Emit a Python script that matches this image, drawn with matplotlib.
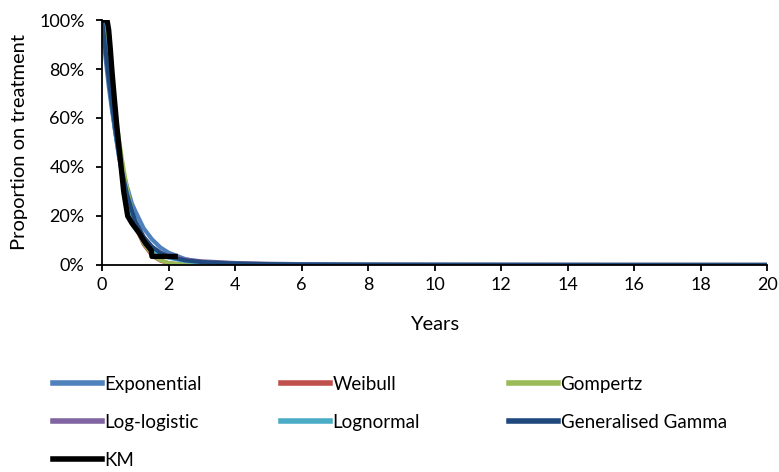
import matplotlib
matplotlib.use("Agg")
import matplotlib.pyplot as plt
from matplotlib.lines import Line2D

plt.rcParams['font.family'] = ['Lato', 'DejaVu Sans']

# Model curves (proportion on treatment, %) at time points (years)
t_model = [0, 0.05, 0.1, 0.2, 0.3, 0.4, 0.5, 0.6, 0.75, 0.9, 1.0, 1.25, 1.5, 1.75, 2.0, 2.5, 3.0, 4.0, 5.0, 6.0, 8.0, 10.0, 15.0, 20.0]
exponential = [100, 92, 85, 73, 63, 54, 47, 40, 32, 25, 22, 15, 10.5, 7.2, 5.0, 2.4, 1.1, 0.3, 0.1, 0.0, 0.0, 0.0, 0.0, 0.0]
weibull     = [100, 95, 90, 79, 68, 58, 48, 40, 29, 20, 16, 8.5, 4.0, 1.8, 0.7, 0.1, 0.0, 0.0, 0.0, 0.0, 0.0, 0.0, 0.0, 0.0]
gompertz    = [100, 97, 93, 84, 73, 62, 52, 43, 31, 22, 17, 9.0, 4.5, 2.0, 0.8, 0.1, 0.0, 0.0, 0.0, 0.0, 0.0, 0.0, 0.0, 0.0]
loglogistic = [100, 94, 88, 76, 65, 54, 45, 38, 28, 21, 17, 11, 7.2, 5.0, 3.6, 2.2, 1.5, 0.8, 0.5, 0.35, 0.2, 0.15, 0.05, 0.03]
lognormal   = [100, 95, 89, 77, 65, 54, 45, 37, 27, 20, 16, 10, 6.5, 4.3, 3.0, 1.6, 1.0, 0.45, 0.25, 0.15, 0.06, 0.03, 0.0, 0.0]
gengamma    = [100, 94, 88, 76, 65, 55, 46, 38, 29, 22, 18, 11.5, 7.5, 5.0, 3.4, 1.9, 1.2, 0.6, 0.35, 0.2, 0.1, 0.05, 0.02, 0.01]

# Kaplan-Meier
t_km = [0, 0.15, 0.2, 0.25, 0.3, 0.37, 0.45, 0.55, 0.65, 0.77, 0.9, 1.13, 1.3, 1.48, 1.5, 2.2]
km   = [100, 100, 96, 88, 79, 68, 56, 43, 30, 20, 17, 12.8, 9, 6, 3.5, 3.5]

series = [
    ("Exponential", exponential, "#4f81bd"),
    ("Weibull", weibull, "#c0504d"),
    ("Gompertz", gompertz, "#9bbb59"),
    ("Log-logistic", loglogistic, "#8064a2"),
    ("Lognormal", lognormal, "#4bacc6"),
    ("Generalised Gamma", gengamma, "#1f497d"),
]

fig = plt.figure(figsize=(7.79, 4.72), dpi=100)
ax = fig.add_axes([0.131, 0.4386, 0.854, 0.519])

handles = {}
for name, vals, col in series:
    h, = ax.plot(t_model, vals, color=col, lw=3.0, solid_capstyle='butt')
    handles[name] = h
hkm, = ax.plot(t_km, km, color='black', lw=3.8)
handles["KM"] = hkm

ax.set_xlim(0, 20)
ax.set_ylim(0, 100)
ax.set_xticks(range(0, 21, 2))
ax.set_yticks(range(0, 101, 20))
ax.set_yticklabels([f"{v}%" for v in range(0, 101, 20)])
ax.spines['top'].set_visible(False)
ax.spines['right'].set_visible(False)
for s in ['left', 'bottom']:
    ax.spines[s].set_linewidth(1.3)
ax.tick_params(axis='y', direction='out', length=4.5, width=1.3, labelsize=13, colors='black', pad=8)
ax.tick_params(axis='x', direction='out', length=4.5, width=1.3, labelsize=13, colors='black', pad=4)
ax.set_xlabel("Years", fontsize=14.5, labelpad=17)
ax.set_ylabel("Proportion on treatment", fontsize=14.5, labelpad=8)

cols = [["Exponential", "Log-logistic", "KM"],
        ["Weibull", "Lognormal"],
        ["Gompertz", "Generalised Gamma"]]
xs = [53, 281, 509]
for names, x in zip(cols, xs):
    hs = [Line2D([], [], color=handles[n].get_color(), lw=4) for n in names]
    fig.legend(hs, names, loc='upper left', bbox_to_anchor=(x / 779 - 0.0, 1 - 376 / 472),
               frameon=False, fontsize=13.5, handlelength=2.6, handletextpad=0.15,
               labelspacing=1.12, borderaxespad=0, borderpad=0)

fig.savefig("out.png", dpi=100)
